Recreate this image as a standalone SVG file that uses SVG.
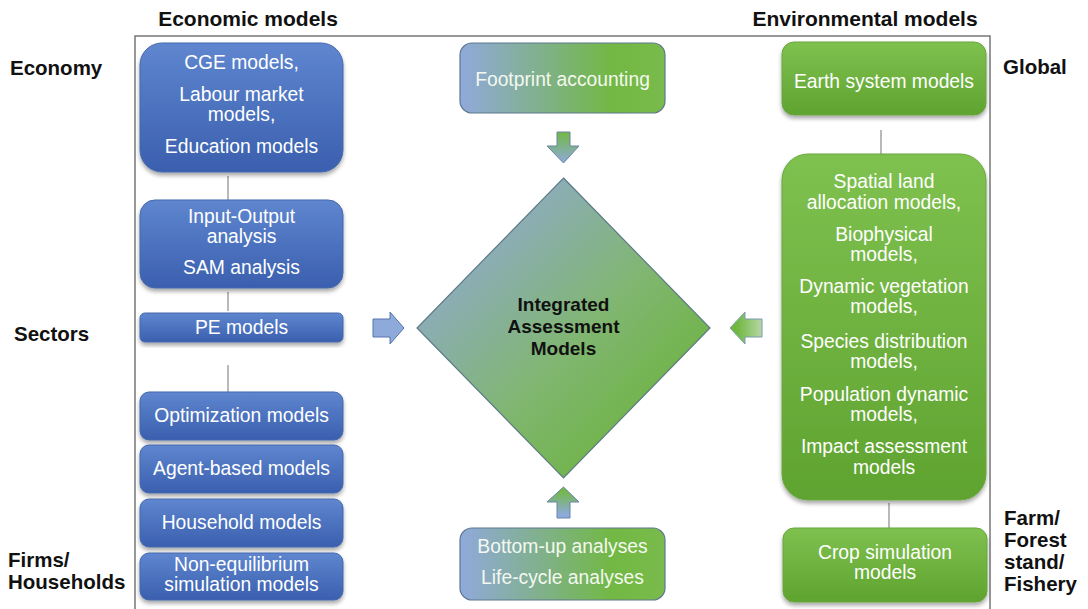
<svg xmlns="http://www.w3.org/2000/svg" width="1088" height="609" viewBox="0 0 1088 609">
<style>
.lbl{font-family:"Liberation Sans",Arial,sans-serif;font-weight:bold;font-size:20.5px;fill:#111}
.hdr{font-family:"Liberation Sans",Arial,sans-serif;font-weight:bold;font-size:21px;fill:#111;text-anchor:middle}
.t{font-family:"Liberation Sans",Arial,sans-serif;font-size:19.3px;fill:#fff;text-anchor:middle}
.c{font-family:"Liberation Sans",Arial,sans-serif;font-size:19.3px;fill:#f4f8f0;text-anchor:middle}
.d{font-family:"Liberation Sans",Arial,sans-serif;font-weight:bold;font-size:19px;fill:#111;text-anchor:middle}
.blue{fill:url(#gBlue);stroke:#4468ad;stroke-width:1;filter:url(#sh)}
.green{fill:url(#gGreen);stroke:#6aa63e;stroke-width:1;filter:url(#sh)}
.mix{fill:url(#gMix);stroke:#5f7890;stroke-width:1.2}
.ln{stroke:#8a8a8a;stroke-width:1.2;fill:none}
</style>
<defs>
<linearGradient id="gBlue" x1="0" y1="0" x2="0" y2="1">
<stop offset="0" stop-color="#5f86cf"/>
<stop offset="1" stop-color="#3a5fae"/>
</linearGradient>
<linearGradient id="gGreen" x1="0" y1="0" x2="0" y2="1">
<stop offset="0" stop-color="#7fc14f"/>
<stop offset="1" stop-color="#5fa330"/>
</linearGradient>
<linearGradient id="gMix" x1="0" y1="0" x2="1" y2="0">
<stop offset="0" stop-color="#90a9db"/>
<stop offset="0.75" stop-color="#72b843"/>
<stop offset="1" stop-color="#79bb4c"/>
</linearGradient>
<linearGradient id="gDia" x1="0" y1="0" x2="1" y2="1">
<stop offset="0.15" stop-color="#8faacb"/>
<stop offset="0.55" stop-color="#80b670"/>
<stop offset="0.85" stop-color="#6db33f"/>
</linearGradient>
<linearGradient id="gDown" x1="0" y1="0" x2="0" y2="1">
<stop offset="0" stop-color="#72b843"/>
<stop offset="1" stop-color="#8eaadb"/>
</linearGradient>
<linearGradient id="gUp" x1="0" y1="1" x2="0" y2="0">
<stop offset="0.1" stop-color="#8eaadb"/>
<stop offset="0.9" stop-color="#72b843"/>
</linearGradient>
<linearGradient id="gLeft" x1="0" y1="0" x2="1" y2="0">
<stop offset="0.2" stop-color="#6fb740"/>
<stop offset="1" stop-color="#b7d6a4"/>
</linearGradient>
<filter id="sh" x="-10%" y="-10%" width="120%" height="130%">
<feGaussianBlur in="SourceAlpha" stdDeviation="2"/>
<feOffset dx="0" dy="3" result="b"/>
<feComponentTransfer><feFuncA type="linear" slope="0.35"/></feComponentTransfer>
<feMerge><feMergeNode/><feMergeNode in="SourceGraphic"/></feMerge>
</filter>
</defs>
<rect width="1088" height="609" fill="#fff"/>
<rect id="frame" x="135" y="36" width="855" height="590" fill="none" stroke="#777" stroke-width="1.5"/>

<g id="labels">
<text class="hdr" x="248" y="26">Economic models</text>
<text class="hdr" x="865" y="26">Environmental models</text>
<text class="lbl" x="10" y="75">Economy</text>
<text class="lbl" x="14" y="341">Sectors</text>
<text class="lbl" x="8" y="567">Firms/</text>
<text class="lbl" x="8" y="589">Households</text>
<text class="lbl" x="1003" y="74">Global</text>
<text class="lbl" x="1004" y="525">Farm/</text>
<text class="lbl" x="1004" y="547">Forest</text>
<text class="lbl" x="1004" y="569">stand/</text>
<text class="lbl" x="1004" y="591">Fishery</text>
</g>

<g id="connectors">
<line class="ln" x1="228" y1="176" x2="228" y2="200"/>
<line class="ln" x1="228" y1="292" x2="228" y2="311"/>
<line class="ln" x1="228" y1="365" x2="228" y2="392"/>
<line class="ln" x1="881" y1="130" x2="881" y2="154"/>
<line class="ln" x1="889" y1="503" x2="889" y2="528"/>
<path id="arrow-down" d="M557,132 H570 V146 H579 L563.5,163 L547,146 H557 Z" fill="url(#gDown)" stroke="#6b84a8" stroke-width="1"/>
<path id="arrow-up" d="M557,518 H570 V502 H579 L563.5,487 L547,502 H557 Z" fill="url(#gUp)" stroke="#6b84a8" stroke-width="1"/>
<path id="arrow-right" d="M373,319 H390 V312 L404,328 L390,344 V337 H373 Z" fill="#8eaadb" stroke="#5575ad" stroke-width="1"/>
<path id="arrow-left" d="M762,319 H745 V312 L730,328 L745,344 V337 H762 Z" fill="url(#gLeft)" stroke="#7d9bb2" stroke-width="1"/>
</g>

<g id="cge">
<rect class="blue" x="140" y="43" width="203" height="129" rx="22"/>
<text class="t" x="241.5" y="69">CGE models,</text>
<text class="t" x="241.5" y="101">Labour market</text>
<text class="t" x="241.5" y="121">models,</text>
<text class="t" x="241.5" y="153">Education models</text>
</g>
<g id="io">
<rect class="blue" x="140" y="200" width="203" height="88" rx="15"/>
<text class="t" x="241.5" y="223">Input-Output</text>
<text class="t" x="241.5" y="243">analysis</text>
<text class="t" x="241.5" y="274">SAM analysis</text>
</g>
<g id="pe">
<rect class="blue" x="140" y="313" width="203" height="29" rx="5"/>
<text class="t" x="241.5" y="334">PE models</text>
</g>
<g id="opt">
<rect class="blue" x="140" y="392" width="203" height="48" rx="9"/>
<text class="t" x="241.5" y="422">Optimization models</text>
</g>
<g id="agent">
<rect class="blue" x="140" y="445" width="203" height="48" rx="9"/>
<text class="t" x="241.5" y="475">Agent-based models</text>
</g>
<g id="household">
<rect class="blue" x="140" y="499" width="203" height="48" rx="9"/>
<text class="t" x="241.5" y="529">Household models</text>
</g>
<g id="noneq">
<rect class="blue" x="140" y="553" width="203" height="47" rx="9"/>
<text class="t" x="241.5" y="571">Non-equilibrium</text>
<text class="t" x="241.5" y="591">simulation models</text>
</g>

<g id="footprint">
<rect class="mix" x="460" y="43" width="205" height="70" rx="12"/>
<text class="c" x="562.5" y="86">Footprint accounting</text>
</g>
<g id="iam">
<path d="M563.5,178 L710,328 L563.5,478 L417,328 Z" fill="url(#gDia)" stroke="#5d7a86" stroke-width="1.2"/>
<text class="d" x="563.5" y="311">Integrated</text>
<text class="d" x="563.5" y="333">Assessment</text>
<text class="d" x="563.5" y="355">Models</text>
</g>
<g id="bottomup">
<rect class="mix" x="460" y="528" width="205" height="72" rx="12"/>
<text class="c" x="562.5" y="553">Bottom-up analyses</text>
<text class="c" x="562.5" y="584">Life-cycle analyses</text>
</g>

<g id="earth">
<rect class="green" x="782" y="42" width="204" height="73" rx="12"/>
<text class="t" x="884" y="88">Earth system models</text>
</g>
<g id="landmodels">
<rect class="green" x="782" y="154" width="204" height="346" rx="26"/>
<text class="t" x="884" y="188">Spatial land</text>
<text class="t" x="884" y="209">allocation models,</text>
<text class="t" x="884" y="241">Biophysical</text>
<text class="t" x="884" y="261">models,</text>
<text class="t" x="884" y="293">Dynamic vegetation</text>
<text class="t" x="884" y="313">models,</text>
<text class="t" x="884" y="348">Species distribution</text>
<text class="t" x="884" y="368">models,</text>
<text class="t" x="884" y="401">Population dynamic</text>
<text class="t" x="884" y="421">models,</text>
<text class="t" x="884" y="453">Impact assessment</text>
<text class="t" x="884" y="474">models</text>
</g>
<g id="crop">
<rect class="green" x="783" y="528" width="204" height="74" rx="11"/>
<text class="t" x="885" y="559">Crop simulation</text>
<text class="t" x="885" y="579">models</text>
</g>
</svg>
